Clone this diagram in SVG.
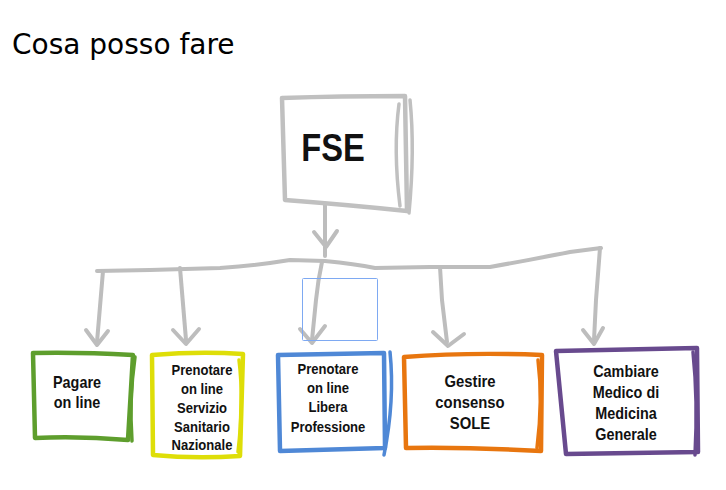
<svg xmlns="http://www.w3.org/2000/svg" width="726" height="490" viewBox="0 0 726 490">
<style>
.ln{fill:none;stroke:#bdbdbd;stroke-width:4;stroke-linecap:round;stroke-linejoin:round}
.bx{fill:#fff;stroke-width:4.5;stroke-linecap:round;stroke-linejoin:round}
.ex{fill:none;stroke-width:3.5;stroke-linecap:round}
.t{font-family:"Liberation Sans",Arial,sans-serif;font-weight:bold;fill:#111;text-anchor:middle}
</style>
<rect width="726" height="490" fill="#fff"/>
<text x="12" y="54" font-family="DejaVu Sans,Verdana,sans-serif" font-size="28" fill="#000">Cosa posso fare</text>

<g id="connectors">
<path class="ln" d="M325,205 L325,256"/>
<path class="ln" d="M314,232 L326,247 L337,231"/>
<path class="ln" d="M97,271 L150,270 L220,268 Q260,265 290,260 L325,261 Q355,264 375,268 L430,267 L490,267 Q540,258 570,252 L601,248"/>
<path class="ln" d="M103,271 L97,342"/><path class="ln" d="M86,330 L97,345 L108,331"/>
<path class="ln" d="M180,268 L186,340"/><path class="ln" d="M173,330 L186,344 L199,329"/>
<path class="ln" d="M322,262 Q318,280 316,300 L312,340"/><path class="ln" d="M300,329 L312,343 L325,326"/>
<path class="ln" d="M440,267 L442,300 L447,342"/><path class="ln" d="M433,332 L448,346 L464,334"/>
<path class="ln" d="M600,248 L596,300 L594,340"/><path class="ln" d="M583,330 L594,344 L603,328"/>
</g>

<g id="fse">
<path class="bx" stroke="#c0c0c0" d="M282,98 Q340,96 405,96 L407,211 Q350,205 285,200 Z"/>
<path class="ex" stroke="#c0c0c0" d="M399,104 Q393,150 400,206"/>
<path class="ex" stroke="#c0c0c0" d="M410,100 Q415,150 409,213"/>
<text class="t" font-size="38" transform="translate(333,161) scale(0.86,1)" x="0" y="0">FSE</text>
</g>

<g id="pagare">
<path class="bx" stroke="#5e9e2d" d="M33,353 Q80,352 133,355 L128,440 Q80,436 35,438 Z"/>
<path class="ex" stroke="#5e9e2d" stroke-width="5" d="M135,357 Q129,400 132,441"/>
<text class="t" font-size="16" transform="translate(77,0) scale(0.9,1)"><tspan x="0" y="388">Pagare</tspan><tspan x="0" y="408">on line</tspan></text>
</g>

<g id="ssn">
<path class="bx" stroke="#dede08" d="M152,355 Q200,351 243,354 L240,456 Q195,459 153,455 Z"/>
<path class="ex" stroke="#dede08" d="M239,360 Q244,400 238,452"/>
<text class="t" font-size="14.5" transform="translate(202,0) scale(0.9,1)"><tspan x="0" y="375">Prenotare</tspan><tspan x="0" y="394">on line</tspan><tspan x="0" y="413">Servizio</tspan><tspan x="0" y="432">Sanitario</tspan><tspan x="0" y="450">Nazionale</tspan></text>
</g>

<g id="libera">
<path class="bx" stroke="#4f88d6" d="M278,355 L384,353 L385,448 L280,451 Z"/>
<path class="ex" stroke="#4f88d6" d="M390,352 Q395,400 384,455"/>
<text class="t" font-size="14.5" transform="translate(328,0) scale(0.9,1)"><tspan x="0" y="374">Prenotare</tspan><tspan x="0" y="393">on line</tspan><tspan x="0" y="412">Libera</tspan><tspan x="0" y="432">Professione</tspan></text>
</g>

<g id="sole">
<path class="bx" stroke="#e8760f" d="M404,357 Q470,352 542,355 L541,451 Q470,447 406,448 Z"/>
<path class="ex" stroke="#e8760f" d="M538,360 Q543,400 537,448"/>
<text class="t" font-size="16.5" transform="translate(470,0) scale(0.9,1)"><tspan x="0" y="387">Gestire</tspan><tspan x="0" y="408">consenso</tspan><tspan x="0" y="429">SOLE</tspan></text>
</g>

<g id="medico">
<path class="bx" stroke="#684a8e" d="M556,351 L697,348 L698,452 L566,454 Z"/>
<path class="ex" stroke="#684a8e" d="M693,352 Q698,400 695,455"/>
<text class="t" font-size="16" transform="translate(626,0) scale(0.9,1)"><tspan x="0" y="377">Cambiare</tspan><tspan x="0" y="398">Medico di</tspan><tspan x="0" y="419">Medicina</tspan><tspan x="0" y="440">Generale</tspan></text>
</g>

<rect x="302.5" y="278.5" width="75" height="62" rx="1" fill="none" stroke="#7ea9f2" stroke-width="1"/>
</svg>
